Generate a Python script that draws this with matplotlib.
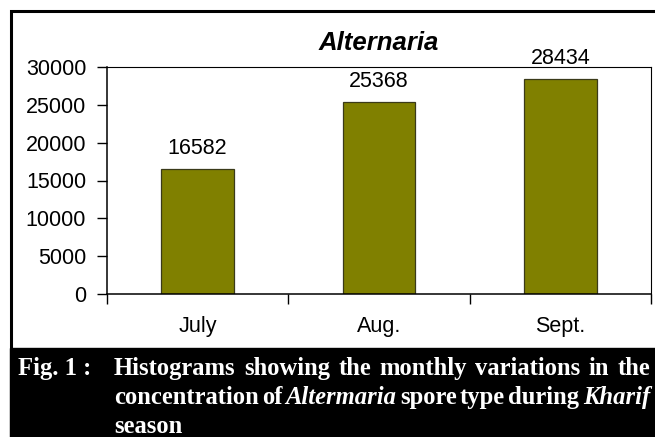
import matplotlib
matplotlib.use("Agg")
import matplotlib.pyplot as plt
from matplotlib.patches import Rectangle

categories = ["July", "Aug.", "Sept."]
values = [16582, 25368, 28434]
yticks = [0, 5000, 10000, 15000, 20000, 25000, 30000]
title = "Alternaria"
caption_label = "Fig. 1 :"
caption_lines = [
    [("Histograms", False), ("showing", False), ("the", False), ("monthly", False),
     ("variations", False), ("in", False), ("the", False)],
    [("concentration", False), ("of", False), ("Altermaria", True), ("spore", False),
     ("type", False), ("during", False), ("Kharif", True)],
    [("season", False)],
]

W, H = 655, 437
fig = plt.figure(figsize=(W / 100, H / 100), dpi=100)
fig.patch.set_facecolor("white")

def fx(px):
    return px / W

def fy(py):
    return 1 - py / H

# outer frame
fig.patches.append(Rectangle((fx(11), fy(445)), fx(660) - fx(11), fy(11) - fy(445),
                             transform=fig.transFigure, fill=False, edgecolor="black",
                             linewidth=2.2, zorder=0))
# caption black box
fig.patches.append(Rectangle((fx(10), 0), fx(660) - fx(10), fy(348),
                             transform=fig.transFigure, facecolor="black",
                             edgecolor="black", zorder=0))

ax_l, ax_r, ax_t, ax_b = 107, 651, 67, 294
ax = fig.add_axes([fx(ax_l), fy(ax_b), fx(ax_r) - fx(ax_l), fy(ax_t) - fy(ax_b)])
x = list(range(len(categories)))
ax.bar(x, values, width=0.4, color="#808000", edgecolor="#3a3a1a", linewidth=0.9)
ax.set_xlim(-0.5, len(categories) - 0.5)
ax.set_ylim(0, 30000)
lab_fs = 15.5
ax.set_yticks(yticks)
ax.set_yticklabels([str(v) for v in yticks], fontsize=lab_fs, family="Liberation Sans")
ax.set_xticks(x)
ax.set_xticklabels(categories, fontsize=lab_fs, family="Liberation Sans")
ax.set_xticks([i - 0.5 for i in range(len(categories) + 1)], minor=True)
ax.tick_params(axis="x", which="major", length=0, pad=16)
ax.tick_params(axis="x", which="minor", length=7, width=1, direction="out")
ax.tick_params(axis="y", length=7, width=1, direction="out", pad=8)
for s in ["left", "bottom"]:
    ax.spines[s].set_linewidth(1.1)
for s in ["top", "right"]:
    ax.spines[s].set_linewidth(0.8)

for xi, v in zip(x, values):
    ax.annotate(str(v), (xi, v), xytext=(0, 7), textcoords="offset points",
                ha="center", va="bottom", fontsize=lab_fs, family="Liberation Sans")

fig.text(fx((ax_l + ax_r) / 2), fy(50), title, ha="center", va="baseline",
         fontsize=18.5, fontweight="bold", fontstyle="italic", family="Liberation Sans")

# caption
cap_fs = 17.7
fig.text(fx(18), fy(375), caption_label, color="white", fontsize=cap_fs,
         fontweight="bold", family="Liberation Serif", va="baseline", ha="left")

fig.canvas.draw()
renderer = fig.canvas.get_renderer()
left_px, right_px = 114, 650
baselines = [375, 404, 433]
for li, (line, base) in enumerate(zip(caption_lines, baselines)):
    texts = []
    for word, ital in line:
        t = fig.text(0, fy(base), word, color="white", fontsize=cap_fs, fontweight="bold",
                     fontstyle="italic" if ital else "normal", family="Liberation Serif",
                     va="baseline", ha="left")
        texts.append(t)
    widths = [t.get_window_extent(renderer).width for t in texts]
    if li < len(caption_lines) - 1 and len(texts) > 1:
        gap = (right_px - left_px - sum(widths)) / (len(texts) - 1)
    else:
        gap = 5
    xpos = left_px
    for t, w in zip(texts, widths):
        t.set_x(fx(xpos))
        xpos += w + gap

fig.savefig("out.png", dpi=100, facecolor="white")
